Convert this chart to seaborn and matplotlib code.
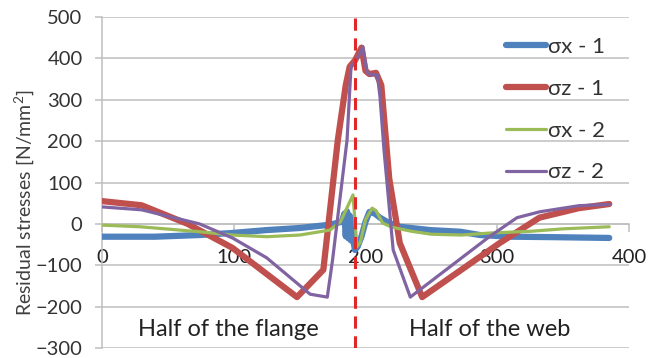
import matplotlib
matplotlib.use("Agg")
import matplotlib.pyplot as plt
import seaborn as sns
import pandas as pd

# ---- data ----
sx1_x = [0, 40, 74, 99, 125, 150, 173, 182, 184, 185, 186, 187, 188, 189, 190, 191, 192, 194, 197, 200, 203, 207, 211, 218, 226, 249, 272, 287, 310, 340, 385]
sx1_y = [-31, -31, -27, -22, -15, -10, -2, 5, 25, -30, 30, -35, 20, -40, 10, -45, -63, -55, -30, 5, 29, 25, 15, 2, -7, -15, -19, -27, -31, -32, -34]

sz1_x = [0, 30, 65, 99, 148, 168, 179, 185, 188, 192, 197, 200, 203, 208, 212, 218, 226, 243, 302, 332, 362, 385]
sz1_y = [55, 45, 0, -58, -177, -111, 203, 335, 380, 395, 426, 370, 362, 365, 335, 110, -46, -177, -46, 15, 38, 48]

sx2_x = [0, 29, 74, 99, 125, 150, 173, 181, 190.5, 193.5, 196, 200, 205, 208, 213, 220, 235, 250, 273, 295, 325, 350, 385]
sx2_y = [-3, -7, -19, -27, -31, -27, -15, 5, 70, -55, -45, 10, 38, 32, 2, -8, -18, -25, -27, -22, -18, -12, -7]

sz2_x = [0, 30, 74, 99, 125, 158, 171, 175, 186, 189, 194, 198, 201, 204, 209, 211, 214, 221, 234, 294, 315, 332, 362, 385]
sz2_y = [41, 34, 0, -34, -82, -170, -177, -87, 203, 380, 400, 428, 368, 360, 360, 307, 180, -63, -177, -31, 15, 29, 44, 47]

series_names = ["σx - 1", "σz - 1", "σx - 2", "σz - 2"]
series_colors = ["#4F81BD", "#C0504D", "#9BBB59", "#8064A2"]
series_widths = [4.5, 4.5, 2.3, 2.3]

divider_x = 192
x_ticks = [0, 100, 200, 300, 400]
y_ticks = [-300, -200, -100, 0, 100, 200, 300, 400, 500]
ylabel = "Residual stresses [N/mm$^2$]"
flange_text = "Half of the flange"
web_text = "Half of the web"

# ---- figure ----
sns.set_theme(style="white")
plt.rcParams['font.family'] = ['Lato', 'DejaVu Sans']
plt.rcParams['mathtext.fontset'] = 'custom'
plt.rcParams['mathtext.rm'] = 'Lato'

fig = plt.figure(figsize=(6.58, 3.58), dpi=100)
ax = fig.add_axes([102/658, 10/358, (629-102)/658, (348-17)/358])

data = [(sx1_x, sx1_y), (sz1_x, sz1_y), (sx2_x, sx2_y), (sz2_x, sz2_y)]
for (xs, ys), name, col, lw in zip(data, series_names, series_colors, series_widths):
    df = pd.DataFrame({"x": xs, "y": ys})
    sns.lineplot(data=df, x="x", y="y", ax=ax, sort=False, estimator=None,
                 color=col, linewidth=lw, label=name, zorder=3,
                 solid_joinstyle="round", solid_capstyle="round")

ax.axvline(divider_x, color="#E02828", linewidth=2.2, linestyle=(0, (4, 2.5)), zorder=5)

ax.set_xlim(0, 400)
ax.set_ylim(-300, 500)
ax.set_xticks(x_ticks)
ax.set_yticks(y_ticks)
ax.set_xlabel("")
ax.set_ylabel(ylabel, fontsize=14, color="#404040")
ax.yaxis.set_label_coords(-0.124, 0.44)

grid_col = "#BFBFBF"
ax.yaxis.grid(True, color=grid_col, linewidth=1.1, zorder=0)
ax.xaxis.grid(False)
for s in ["top", "right"]:
    ax.spines[s].set_visible(False)
ax.spines["left"].set_color(grid_col)
ax.spines["left"].set_linewidth(1.1)
ax.spines["bottom"].set_position(("data", 0))
ax.spines["bottom"].set_color(grid_col)
ax.spines["bottom"].set_linewidth(1.1)

ax.tick_params(axis="y", direction="out", length=5, width=1.1, color=grid_col,
               pad=9, labelsize=14.5, labelcolor="#333333", left=True)
ax.tick_params(axis="x", direction="out", length=6, width=1.1, color=grid_col,
               pad=12, labelsize=14.5, labelcolor="#222222", bottom=True)
ax.set_axisbelow(True)

ax.text(96, -256, flange_text, ha="center", va="center", fontsize=17, color="#222222")
ax.text(294, -256, web_text, ha="center", va="center", fontsize=17, color="#222222")

leg = ax.legend(loc="upper left", bbox_to_anchor=(506/658, 1 - 37/358),
                bbox_transform=fig.transFigure, frameon=False, fontsize=16,
                handlelength=1.8, handletextpad=0.1, labelspacing=0.98,
                borderpad=0, borderaxespad=0)
for t in leg.get_texts():
    t.set_color("#333333")

fig.savefig("out.png", dpi=100)
